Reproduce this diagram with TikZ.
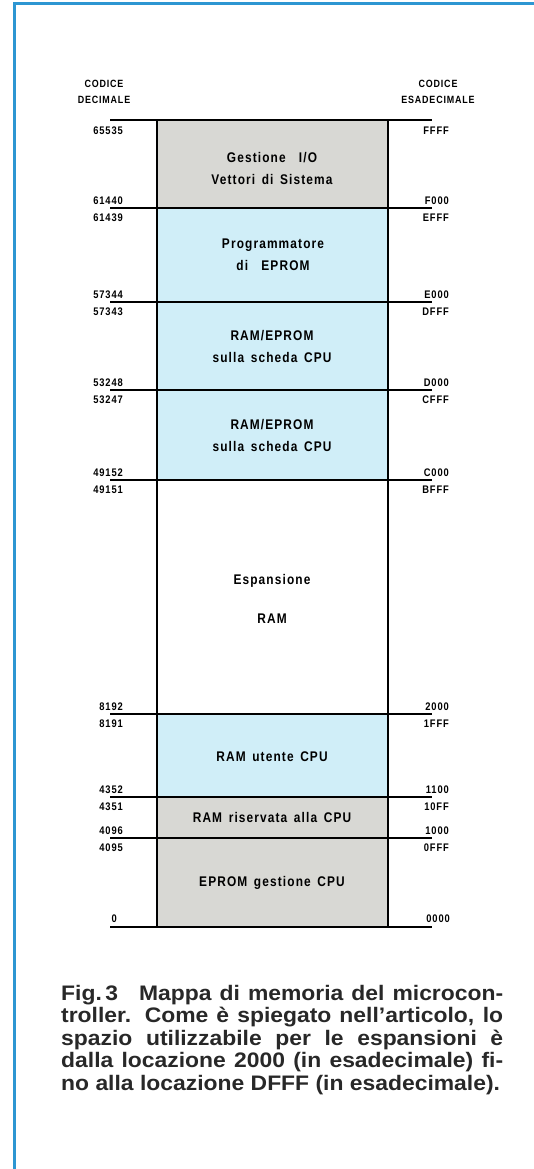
\documentclass[tikz,border=0pt]{standalone}
\usepackage{fontspec}
\setmainfont{Liberation Sans}
\newfontfamily\mapfont{Liberation Sans}[FakeStretch=0.85, LetterSpace=8, WordSpace=1.5]
\newfontfamily\capfont{Liberation Sans}[FakeStretch=1.09]
\usepackage{tikz}
\usetikzlibrary{calc, positioning}
\usepackage{xcolor}
\definecolor{frameBlue}{RGB}{45, 150, 210}
\definecolor{cellBlue}{RGB}{208, 238, 248}
\definecolor{cellGray}{RGB}{216, 216, 212}
\definecolor{capText}{RGB}{40, 40, 40}

\begin{document}
\begin{tikzpicture}[x=1pt, y={(0pt,-1pt)},
  tick/.style={line width=1.1pt},
  sep/.style={line width=2.4pt},
  cellTxt/.style={font=\mapfont\bfseries\fontsize{14}{22}\selectfont, align=center, inner sep=0pt},
  addr/.style={font=\mapfont\bfseries\fontsize{11}{13}\selectfont, inner sep=0pt, anchor=east},
  head/.style={font=\mapfont\bfseries\fontsize{10.5}{16}\selectfont, align=center, inner sep=0pt}]
  \useasboundingbox (0,0) rectangle (534,1169);
  \fill[white] (0,0) rectangle (534,1169);

  % page frame
  \draw[frameBlue, line width=3pt] (14,1169) -- (14,4) -- (534,4);

  \def\xl{157}
  \def\xr{388}

  % column headings
  \node[head] (hdec) at (104,92) {CODICE\\DECIMALE};
  \node[head] (hhex) at (438,92) {CODICE\\ESADECIMALE};

  % memory blocks
  \fill[cellGray] (\xl,120) rectangle (\xr,208);
  \fill[cellBlue] (\xl,208) rectangle (\xr,480);
  \fill[cellBlue] (\xl,714) rectangle (\xr,797);
  \fill[cellGray] (\xl,797) rectangle (\xr,927);

  \foreach \y in {120,208,302,390,480,714,797,838,927}{
    \draw[tick] (110,\y) -- (\xl,\y) (\xr,\y) -- (432,\y);
    \draw[sep] (\xl,\y) -- (\xr,\y);
  }
  \draw[line width=2.6pt] (\xl,120) rectangle (\xr,927);

  % addresses
  \node[addr] (dec-65535) at (123,131) {65535};
  \node[addr] (hex-FFFF) at (449,131) {FFFF};
  \foreach \y/\dA/\dB/\hA/\hB in {208/61440/61439/F000/EFFF,
      302/57344/57343/E000/DFFF, 390/53248/53247/D000/CFFF,
      480/49152/49151/C000/BFFF, 714/8192/8191/2000/1FFF,
      797/4352/4351/1100/10FF, 838/4096/4095/1000/0FFF}{
    \node[addr] (dec-\dA) at (123,{\y-7}) {\dA};
    \node[addr] (dec-\dB) at (123,{\y+10}) {\dB};
    \node[addr] (hex-\hA) at (449,{\y-7}) {\hA};
    \node[addr] (hex-\hB) at (449,{\y+10}) {\hB};
  }
  \node[addr] (dec-0) at (117,919) {0};
  \node[addr] (hex-0000) at (450,919) {0000};

  % block labels
  \node[cellTxt] (io) at (272,168) {Gestione\ \ I/O\\Vettori di Sistema};
  \node[cellTxt] (prog) at (273,255) {Programmatore\\di\ \ EPROM};
  \node[cellTxt] (cpuA) at (272,346) {RAM/EPROM\\sulla scheda CPU};
  \node[cellTxt] (cpuB) at (272,435) {RAM/EPROM\\sulla scheda CPU};
  \node[cellTxt, font=\mapfont\bfseries\fontsize{14}{39}\selectfont] (esp) at (272,599) {Espansione\\RAM};
  \node[cellTxt] (utente) at (272,757) {RAM utente CPU};
  \node[cellTxt] (riserv) at (272,817) {RAM riservata alla CPU};
  \node[cellTxt] (eprom) at (272,883) {EPROM gestione CPU};

  % caption
  \node[anchor=north west, inner sep=0pt, text width=442pt, align=justify,
    text=capText, font=\capfont\bfseries\fontsize{21}{22.5}\selectfont] (cap) at (61,985)
    {Fig.\,3\quad Mappa di memoria del microcon-\linebreak
     troller. Come è spiegato nell’articolo, lo\linebreak
     spazio utilizzabile per le espansioni è\linebreak
     dalla locazione 2000 (in esadecimale) fi-\linebreak
     no alla locazione DFFF (in esadecimale).};
\end{tikzpicture}
\end{document}
